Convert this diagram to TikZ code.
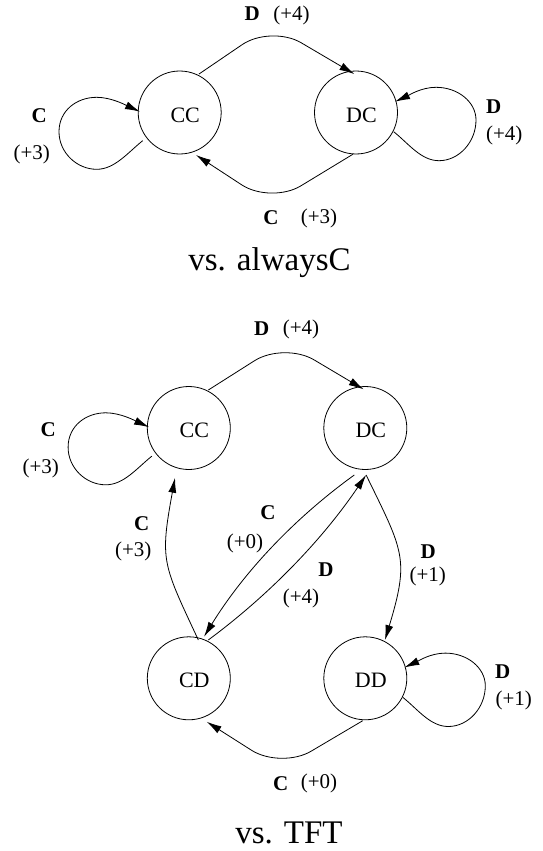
\documentclass[tikz,border=0pt]{standalone}
\usepackage{fontspec}
\setmainfont{Liberation Serif}
\usetikzlibrary{arrows.meta,calc}
\begin{document}
\begin{tikzpicture}[x=1pt,y=1pt,
  state/.style={draw, circle, minimum size=83pt, inner sep=0pt, line width=0.8pt},
  stxt/.style={font=\fontsize{22}{24}\selectfont, xshift=5.5pt, yshift=-2.5pt, inner sep=0pt},
  edge/.style={draw, line width=0.8pt, -{Latex[length=15pt,width=8pt]}},
  act/.style={font=\fontsize{21}{24}\selectfont\bfseries, inner sep=0pt},
  pay/.style={font=\fontsize{21}{24}\selectfont, inner sep=0pt},
  vscap/.style={font=\fontsize{33}{36}\selectfont, inner sep=0pt}
]
\useasboundingbox (0,0) rectangle (542,-851);

% ---------------- vs. alwaysC ----------------
\node[state, label={[stxt]center:CC}] (cc1) at (179.7,-112.5) {};
\node[state, label={[stxt]center:DC}] (dc1) at (356,-112.5) {};
\coordinate (v1t) at (271,-25);
\coordinate (v1b) at (271,-204);

\draw[edge, rounded corners=35pt] ($(cc1)+(63.4:43)$) -- (v1t) -- ($(dc1)+(92.5:38.5)$);
\draw[edge, rounded corners=35pt] ($(dc1)+(-94.5:42)$) -- (v1b) -- ($(cc1)+(-69:45.5)$);

\draw[edge] ($(cc1)+(217.3:46.5)$)
  .. controls ($(cc1)+(-52,-40.2)$) and ($(cc1)+(-65,-56.8)$) .. ($(cc1)+(-83,-56.8)$)
  .. controls ($(cc1)+(-103,-56.8)$) and ($(cc1)+(-120.7,-40)$) .. ($(cc1)+(-120.7,-19.2)$)
  .. controls ($(cc1)+(-120.7,2)$) and ($(cc1)+(-103,15.2)$) .. ($(cc1)+(-83,15.2)$)
  .. controls ($(cc1)+(-68,15.2)$) and ($(cc1)+(-52.7,6.8)$) .. ($(cc1)+(178.8:39.7)$);
\draw[edge] ($(dc1)+(-27:42.3)$)
  .. controls ($(dc1)+(52.7,-31.2)$) and ($(dc1)+(65,-48.2)$) .. ($(dc1)+(83,-48.2)$)
  .. controls ($(dc1)+(103,-48.2)$) and ($(dc1)+(120,-29.5)$) .. ($(dc1)+(120,-7.5)$)
  .. controls ($(dc1)+(120,10.5)$) and ($(dc1)+(102,25.2)$) .. ($(dc1)+(80,25.2)$)
  .. controls ($(dc1)+(65,25.2)$) and ($(dc1)+(52,16.8)$) .. ($(dc1)+(15.5:40.5)$);

\node[act] (a1) at (252.3,-13.3) {D};
\node[pay] (p1) at (291.5,-15) {(+4)};
\node[act] (a2) at (39.3,-116) {C};
\node[pay] (p2) at (31.7,-154) {(+3)};
\node[act] (a3) at (493.7,-106.7) {D};
\node[pay] (p3) at (504.3,-135) {(+4)};
\node[act] (a4) at (271,-218) {C};
\node[pay] (p4) at (319,-218) {(+3)};
\node[vscap] (t1) at (269.5,-263) {vs. alwaysC};

% ---------------- vs. TFT ----------------
\node[state, label={[stxt]center:CC}] (cc2) at (188.8,-428) {};
\node[state, label={[stxt]center:DC}] (dc2) at (365.3,-428) {};
\node[state, label={[stxt]center:CD}] (cd2) at (188.8,-678.3) {};
\node[state, label={[stxt]center:DD}] (dd2) at (365.3,-678.3) {};
\coordinate (v2t) at (284,-342);
\coordinate (v2b) at (281,-769);

\draw[edge, rounded corners=35pt] ($(cc2)+(62.8:42.7)$) -- (v2t) -- ($(dc2)+(92.4:38.7)$);
\draw[edge, rounded corners=35pt] ($(dd2)+(-93.5:42.5)$) -- (v2b) -- ($(cd2)+(-67.6:47)$);

\draw[edge] ($(cc2)+(217.3:46.5)$)
  .. controls ($(cc2)+(-52,-40.2)$) and ($(cc2)+(-65,-56.8)$) .. ($(cc2)+(-83,-56.8)$)
  .. controls ($(cc2)+(-103,-56.8)$) and ($(cc2)+(-120.7,-40)$) .. ($(cc2)+(-120.7,-19.2)$)
  .. controls ($(cc2)+(-120.7,2)$) and ($(cc2)+(-103,15.2)$) .. ($(cc2)+(-83,15.2)$)
  .. controls ($(cc2)+(-68,15.2)$) and ($(cc2)+(-52.7,6.8)$) .. ($(cc2)+(178.8:39.7)$);
\draw[edge] ($(dd2)+(-27:42.3)$)
  .. controls ($(dd2)+(52.7,-31.2)$) and ($(dd2)+(65,-48.2)$) .. ($(dd2)+(83,-48.2)$)
  .. controls ($(dd2)+(103,-48.2)$) and ($(dd2)+(120,-29.5)$) .. ($(dd2)+(120,-7.5)$)
  .. controls ($(dd2)+(120,10.5)$) and ($(dd2)+(102,25.2)$) .. ($(dd2)+(80,25.2)$)
  .. controls ($(dd2)+(65,25.2)$) and ($(dd2)+(52,16.8)$) .. ($(dd2)+(15.5:40.5)$);

\draw[edge] ($(cd2)+(76:39.5)$) .. controls (162.4,-563) and (159.8,-561.1) .. ($(cc2)+(-105.5:51.6)$);
\draw[edge] ($(dc2)+(-103.2:48.3)$) .. controls (293.5,-518.9) and (243.4,-572.8) .. ($(cd2)+(69.9:44.3)$);
\draw[edge] ($(cd2)+(63:43)$) .. controls (270.3,-594) and (322.8,-539) .. ($(dc2)+(-89:47)$);
\draw[edge] ($(dc2)+(-89:47)$) .. controls (403.4,-551.5) and (409.7,-558.4) .. ($(dd2)+(62.8:43)$);

\node[act] (b1) at (261.7,-328.3) {D};
\node[pay] (q1) at (301,-329.3) {(+4)};
\node[act] (b2) at (48.3,-430) {C};
\node[pay] (q2) at (40.7,-468.3) {(+3)};
\node[act] (b3) at (141.7,-523.3) {C};
\node[pay] (q3) at (133.3,-551.7) {(+3)};
\node[act] (b4) at (268,-513) {C};
\node[pay] (q4) at (245,-543.3) {(+0)};
\node[act] (b5) at (326,-570) {D};
\node[pay] (q5) at (301,-598.3) {(+4)};
\node[act] (b6) at (428.3,-551.7) {D};
\node[pay] (q6) at (427.7,-576.7) {(+1)};
\node[act] (b7) at (502.7,-671.7) {D};
\node[pay] (q7) at (513.7,-700.7) {(+1)};
\node[act] (b8) at (280.7,-783.3) {C};
\node[pay] (q8) at (319,-783.3) {(+0)};
\node[vscap] (t2) at (289,-833) {vs. TFT};
\end{tikzpicture}
\end{document}
